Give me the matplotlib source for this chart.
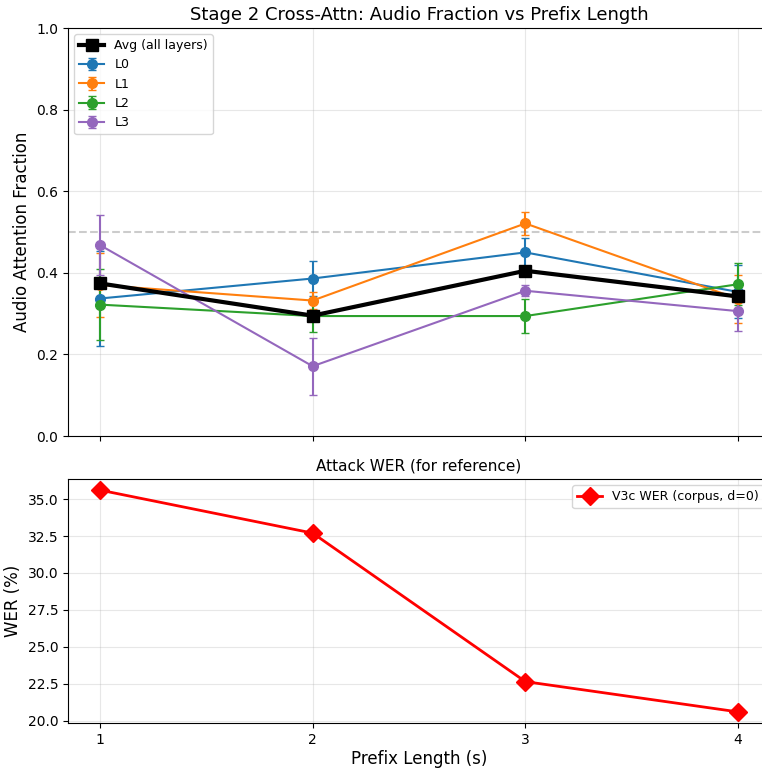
import matplotlib
matplotlib.use("Agg")
import matplotlib.pyplot as plt
import numpy as np

prefix = [1, 2, 3, 4]
l0 = [0.337, 0.386, 0.450, 0.353]
l0_err = [0.117, 0.044, 0.036, 0.065]
l1 = [0.370, 0.332, 0.521, 0.336]
l1_err = [0.079, 0.020, 0.029, 0.058]
l2 = [0.322, 0.294, 0.294, 0.372]
l2_err = [0.087, 0.040, 0.041, 0.051]
l3 = [0.468, 0.171, 0.356, 0.306]
l3_err = [0.074, 0.070, 0.014, 0.049]
avg = [0.374, 0.295, 0.405, 0.342]
wer = [35.61, 32.70, 22.65, 20.60]

fig = plt.figure(figsize=(7.62, 7.68), dpi=100)
W, H = 762, 768
R = 770
ax1 = fig.add_axes([68 / W, 1 - 436 / H, (R - 68) / W, (436 - 28) / H])
ax2 = fig.add_axes([68 / W, 1 - 723 / H, (R - 68) / W, (723 - 479) / H], sharex=ax1)

ax1.plot(prefix, avg, color="black", marker="s", lw=3, markersize=8.5,
         label="Avg (all layers)", zorder=5)
colors = ["#1f77b4", "#ff7f0e", "#2ca02c", "#9467bd"]
for name, vals, errs, c in [("L0", l0, l0_err, colors[0]), ("L1", l1, l1_err, colors[1]),
                            ("L2", l2, l2_err, colors[2]), ("L3", l3, l3_err, colors[3])]:
    ax1.errorbar(prefix, vals, yerr=errs, color=c, marker="o", lw=1.5,
                 markersize=7, capsize=3, label=name)
ax1.axhline(0.5, color="gray", ls="--", alpha=0.4, lw=1.5)
ax1.set_ylim(0, 1.0)
ax1.set_ylabel("Audio Attention Fraction", fontsize=12)
ax1.set_title("Stage 2 Cross-Attn: Audio Fraction vs Prefix Length", fontsize=13)
ax1.legend(loc="upper left", fontsize=9)
ax1.grid(True, alpha=0.3)
ax1.tick_params(labelbottom=False)

ax2.plot(prefix, wer, color="red", marker="D", lw=2, markersize=9.5,
         label="V3c WER (corpus, d=0)")
ax2.set_ylabel("WER (%)", fontsize=12)
ax2.set_xlabel("Prefix Length (s)", fontsize=12, labelpad=2)
ax2.set_title("Attack WER (for reference)", fontsize=11)
ax2.set_xticks(prefix)
ax2.grid(True, alpha=0.3)
ax2.legend(loc="upper right", fontsize=9)

fig.savefig("out.png", dpi=100)
